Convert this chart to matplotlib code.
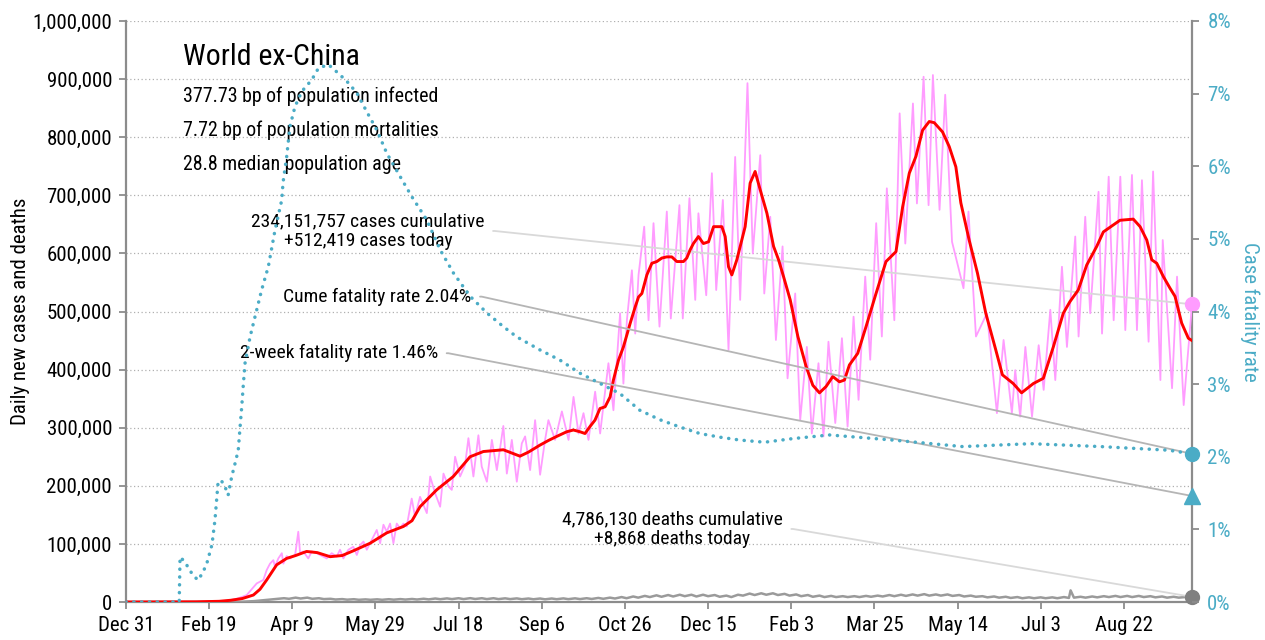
import numpy as np
import matplotlib
matplotlib.use('Agg')
import matplotlib.pyplot as plt
from matplotlib import font_manager as fm
from matplotlib.ticker import FuncFormatter

# x = days since Dec 31 2019, case/death values in thousands
tick_days = [0, 50, 100, 150, 200, 250, 300, 350, 400, 450, 500, 550, 600]
tick_labels = ['Dec 31', 'Feb 19', 'Apr 9', 'May 29', 'Jul 18', 'Sep 6', 'Oct 26',
               'Dec 15', 'Feb 3', 'Mar 25', 'May 14', 'Jul 3', 'Aug 22']

# daily new cases (raw, pink)
pink_days = [0, 50, 60, 66, 70, 72.6, 78.6, 82.6, 84.6, 86.6, 88.6, 89.6, 91.6, 93.7, 94.6,
             96.6, 98.6, 101.7, 103.6, 104.7, 106.6, 109.6, 111.7, 114.7, 116.7, 120.7, 123.7,
             126.7, 128.7, 130.7, 133.7, 136.7, 138.8, 140.8, 142.8, 144.8, 147.8, 150.8, 152.8,
             154.8, 156.8, 158.8, 160.8, 162.8, 164.8, 166.8, 168.8, 171.8, 173.8, 176.8, 180.9,
             182.9, 185.9, 188.9, 190.9, 193.9, 195.9, 197.9, 200.9, 203.9, 205.9, 208.9, 211.9,
             213.9, 217, 220, 223, 226.9, 229, 232, 235, 238, 240, 243, 246, 249, 252,
             254.0, 258.0, 262.1, 266.1, 269.1, 272.1, 275.1, 278.1, 282.1, 285.1, 290.1, 293.1,
             297.1, 299.1, 301.2, 304.2, 306.2, 308.2, 311.6, 314.2, 317.2, 320.8, 325.2, 327.6,
             332.8, 334.8, 338.8, 342.3, 344.2, 348.9, 352.3, 354.9, 358.9, 362.3, 366.3, 369.3,
             373.7, 376.9, 381.4, 383.8, 387.4, 390.8, 394.8, 397.8,
             402.4, 405.4, 409.4, 412.4, 416.4, 419.4, 422.4, 426.5, 430.5, 433.9, 437.5, 440.5,
             444.5, 447.5, 451.1, 454.5, 457.5, 462, 465.2, 468.6, 473.2, 475.6, 479.6, 482.6,
             485.2, 489.2, 492.6, 496.7, 503.6, 506.6, 511.1, 517.7, 523.7,
             527.7, 532.7, 534.7, 537.7, 540.8, 544.8, 548.8, 551.8, 555.8, 558.8, 562.8, 565.8,
             570.8, 572.8, 576.8, 579.8, 584.8, 586.9, 590.9, 593.9, 597.9, 600.9, 604.9, 607.9,
             610.9, 614.9, 617.6, 622, 623.4, 629, 632, 636, 641]
pink_vals = [0, 0.5, 2, 5, 9, 12, 32, 38, 55, 66, 72, 61, 75, 84, 66,
             79, 75, 81, 121, 84, 87, 75, 87, 84, 81, 75, 84,
             78, 90, 75, 90, 95, 81, 98, 104, 90, 107, 124, 101,
             133, 121, 135, 101, 135, 127, 135, 130, 178, 147, 181, 153,
             216, 187, 164, 221, 199, 193, 250, 216, 236, 282, 216, 287,
             233, 207, 279, 227, 303, 221, 279, 207, 273, 285, 227, 313, 219, 279,
             313, 279, 328, 279, 353, 290, 325, 279, 362, 290, 411, 330,
             497, 376, 485, 571, 462, 563, 646, 485, 652, 474, 672, 488,
             683, 488, 695, 520, 669, 528, 738, 537, 692, 434, 766, 520,
             893, 600, 769, 531, 663, 451, 612, 385,
             531, 313, 439, 290, 411, 285, 448, 308, 454, 302, 491, 348,
             560, 417, 652, 457, 712, 485, 841, 617, 858, 686, 904, 683,
             907, 675, 873, 620, 540, 672, 457, 497, 325,
             451, 325, 399, 319, 439, 319, 442, 365, 503, 382, 577, 439,
             629, 457, 663, 497, 706, 462, 732, 485, 732, 468, 735, 468,
             726, 448, 741, 382, 623, 368, 560, 339, 512]

# 7-day average of new cases (red)
avg_days = [0, 28, 42, 56, 63, 70, 76.6, 80.6, 84.6, 90.6, 96.6, 102, 108.6, 115, 122.7, 130,
            136.6, 146.7, 156.8, 166.8, 172, 176.8, 186.8, 196.8, 206.9, 214.9, 226.9, 236.9,
            242, 248.9, 254, 259, 265, 269, 273, 276, 279, 282, 285, 288.1, 291.1, 293.1,
            296.1, 299.1, 303.2, 306.2, 308.2, 310.2, 313.2, 316.2, 319.2, 322.2, 325.2, 328.2,
            331.2, 335.2, 337.2, 339.2, 341.2, 344.2, 347.2, 350.3, 353.3, 358.3, 360.3, 362.3,
            364.3, 367.3, 369.3, 372.3, 375.3, 378.3, 381.4, 385.4, 389.4, 392.4, 395.4, 399.4,
            404, 409, 413, 417, 421, 425, 429, 432, 435, 440, 445, 451, 457, 463, 467, 471,
            475, 479, 483, 486, 491, 495, 499, 502, 507, 512, 517, 523, 527, 533.5, 538.5,
            545.6, 551.6, 557.6, 563.6, 567.6, 572.6, 577.7, 583.7, 587.7, 593.7, 597.7, 605.7,
            609.8, 613.8, 616.8, 619.8, 623.8, 627.8, 630.8, 634.8, 638.8, 641]
avg_vals = [0, 0.1, 0.3, 1.2, 3, 6, 12, 22, 38, 64, 75, 80, 87, 85, 78, 80,
            88, 101, 119, 130, 140, 164, 193, 216, 250, 259, 262, 251,
            258, 270, 278, 285, 293, 296, 293, 290, 302, 313, 333, 336, 353, 382,
            416, 439, 480, 508, 525, 531, 563, 583, 586, 592, 594, 594,
            586, 586, 592, 606, 617, 629, 617, 620, 646, 646, 629, 577,
            563, 589, 612, 646, 721, 741, 709, 669, 612, 589, 560, 520,
            457, 405, 373, 360, 371, 388, 379, 382, 408, 428, 474, 531, 586, 603, 680, 738,
            767, 812, 827, 825, 809, 784, 749, 687, 623, 566, 497, 434, 391, 376, 360,
            376, 385, 439, 497, 517, 537, 580, 612, 637, 649, 657, 659,
            646, 623, 589, 583, 560, 540, 526, 480, 454, 450]

# daily deaths (grey)
death_days = [0, 60, 70, 77, 84, 91, 95, 98, 102, 105, 109, 112, 116, 119, 123, 126, 130, 133,
              137, 140, 144, 147, 151, 154, 158, 161, 165, 168, 172, 175, 179, 182, 186, 189,
              193, 196, 200, 203, 207, 210, 214, 217, 221, 224, 228, 231, 235, 238, 242, 245,
              249, 252, 256, 259, 263, 266, 270, 273, 277, 280, 284, 287, 291, 294, 298, 301,
              305, 308, 312, 315, 319, 322, 326, 329, 333, 336, 340, 343, 347, 350, 354, 357,
              361, 364, 368, 371, 375, 378, 382, 385, 389, 392, 396, 399, 403, 406, 410, 413,
              417, 420, 424, 427, 431, 434, 438, 441, 445, 448, 452, 455, 459, 462, 466, 469,
              473, 476, 480, 483, 487, 490, 494, 497, 501, 504, 508, 511, 515, 518, 522, 525,
              529, 532, 536, 539, 543, 546, 550, 553, 557, 560, 564, 567, 568, 570, 574, 577,
              581, 584, 588, 591, 595, 598, 602, 605, 609, 612, 616, 619, 623, 626, 630, 633,
              637, 641]
death_vals = [0, 0.1, 0.5, 1.5, 3.5, 5.5, 6.5, 5.5, 7.5, 6, 7.5, 5.5, 6.5, 5, 5.5, 4.3, 5, 4,
              4.8, 3.8, 4.5, 3.8, 4.6, 3.8, 4.8, 4, 5, 4.2, 5.2, 4.3, 5.6, 4.5, 6, 4.8,
              6.2, 5, 6.5, 5, 6.6, 5.2, 6.5, 5, 6.5, 5, 6.3, 5, 6.2, 4.8, 6, 4.7,
              6, 4.6, 6, 4.8, 6.2, 4.9, 6.3, 5, 6.5, 5.2, 7, 5.5, 7.5, 6, 8.5, 6.5,
              9.5, 7.5, 10.5, 8.5, 11.5, 9, 12, 9.5, 12.5, 10, 12.5, 9.5, 12.5, 10, 12, 9,
              11, 8.5, 12.5, 11, 14.5, 12, 15, 12.5, 15, 12, 14, 11, 13, 10, 12, 9,
              11, 8.5, 10.5, 8.5, 10, 8.5, 10, 8.5, 10.5, 9, 11, 9.5, 12, 10, 12.5, 10.5,
              13, 11, 13.5, 11, 13, 11, 13, 10.5, 12, 9.5, 11, 9, 10, 8, 9.5, 7.5,
              9, 7, 8.5, 6.5, 8, 6.5, 8, 6.5, 8, 6.5, 8.5, 7, 20, 7.5, 9, 7.5,
              9.5, 8, 10, 8.5, 10.5, 8.5, 10.5, 8.5, 10.5, 8.5, 10, 8, 9.5, 7.5, 9, 7.5,
              8.5, 8.868]

# cumulative case fatality rate, % (teal, right axis)
cfr_days = [0, 32, 32.5, 35.5, 38, 40.3, 43.3, 46.3, 48.7, 51.7, 53.5, 55.3, 57.1, 59.5, 61.4,
            63.6, 65.6, 67.5, 68.6, 69.6, 70.6, 71.6, 74.6, 77.6, 81.6, 85.6, 89.6, 93.7, 94.4,
            96.6, 98.6, 101.6, 105.7, 111.7, 115.7, 121.7, 126.7, 132.8, 138.8, 144.8, 150.8,
            156.8, 164.8, 171.9, 180.9, 188.9, 196.9, 206.9, 217, 227, 235, 249, 261, 273, 285,
            297, 309, 321, 333, 345, 357, 369, 384, 401, 423, 461, 503, 544, 586, 627, 641]
cfr_vals = [0, 0, 0.62, 0.55, 0.45, 0.37, 0.30, 0.41, 0.54, 0.79, 1.13, 1.63, 1.68, 1.59, 1.47,
            1.73, 1.91, 2.09, 2.41, 2.69, 3.01, 3.29, 3.65, 3.93, 4.30, 4.62, 5.12, 5.54, 5.77,
            6.13, 6.55, 6.82, 7.03, 7.19, 7.35, 7.40, 7.30, 7.17, 7.01, 6.75, 6.50,
            6.18, 5.86, 5.58, 5.26, 4.85, 4.53, 4.21, 3.98, 3.79, 3.65, 3.47, 3.33, 3.15, 3.01,
            2.87, 2.64, 2.51, 2.41, 2.32, 2.27, 2.23, 2.20, 2.25, 2.30, 2.23, 2.14, 2.18, 2.14, 2.09, 2.04]

cases_cum = 234151757
cases_today = 512419
deaths_cum = 4786130
deaths_today = 8868
cfr_cume = 2.04
cfr_2wk = 1.46
info_lines = ['377.73 bp of population infected',
              '7.72 bp of population mortalities',
              '28.8 median population age']

# ---- style
avail = {f.name for f in fm.fontManager.ttflist}
fam = 'DejaVu Sans'
for cand in ['Liberation Sans Narrow', 'Roboto Condensed', 'Open Sans Condensed']:
    if cand in avail:
        fam = cand
        break
plt.rcParams['font.family'] = [fam, 'DejaVu Sans']

PINK = '#ff9cff'
RED = '#ff0000'
TEAL = '#4bacc6'
GREY = '#9a9a9a'
AXC = '#8c8c8c'
end = pink_days[-1]

fig = plt.figure(figsize=(12.65, 6.4), dpi=100)
ax = fig.add_axes([126 / 1265, 38 / 640, 1066 / 1265, 581 / 640])
ax2 = ax.twinx()

ax.plot(pink_days, np.array(pink_vals) * 1000, color=PINK, lw=1.3, zorder=3)
ax.plot(avg_days, np.array(avg_vals) * 1000, color=RED, lw=2.1, zorder=5)
ax.plot(death_days, np.array(death_vals) * 1000, color=GREY, lw=1.8, zorder=4)
ax2.plot(cfr_days, cfr_vals, color=TEAL, lw=2.5, linestyle=(0, (0.05, 2.2)),
         dash_capstyle='round', zorder=3)

ax.plot(end, cases_today, 'o', color=PINK, ms=10, clip_on=False, zorder=6)
ax.plot(end, deaths_today, 'o', color='#808080', ms=10, clip_on=False, zorder=6)
ax2.plot(end, cfr_cume, 'o', color=TEAL, ms=10, clip_on=False, zorder=6)
ax2.plot(end, cfr_2wk, '^', color=TEAL, ms=11, clip_on=False, zorder=6)

ax.set_xlim(0, end)
ax.set_ylim(0, 1e6)
ax2.set_ylim(0, 8)
ax.set_xticks(tick_days)
ax.set_xticklabels(tick_labels)
ax.set_yticks(np.arange(0, 1e6 + 1, 1e5))
ax.yaxis.set_major_formatter(FuncFormatter(lambda v, p: f'{v:,.0f}'))
ax2.set_yticks(range(0, 9))
ax2.yaxis.set_major_formatter(FuncFormatter(lambda v, p: f'{v:.0f}%'))

ax.yaxis.grid(True, linestyle=(0, (1, 2)), color='#b0b0b0', lw=0.9)
ax.set_axisbelow(True)

ax.spines['top'].set_visible(False)
for s in ['left', 'right', 'bottom']:
    ax.spines[s].set_color(AXC)
    ax.spines[s].set_linewidth(1.6)
for s in ax2.spines.values():
    s.set_visible(False)

ax.tick_params(axis='both', colors=AXC, labelcolor='black', labelsize=15, length=5, width=1.3)
ax.tick_params(axis='y', pad=5)
ax.tick_params(axis='x', pad=5)
ax2.tick_params(axis='y', colors=AXC, labelcolor=TEAL, labelsize=15, length=5, width=1.3, pad=6)

ax.set_ylabel('Daily new cases and deaths', fontsize=15)
ax.yaxis.set_label_coords(-0.09, 0.5)
ax2.set_ylabel('Case fatality rate', fontsize=15, color=TEAL, rotation=270, va='bottom')
ax2.yaxis.set_label_coords(1.045, 0.5)

# headline text
ax.text(0.0535, 0.9243, 'World ex-China', transform=ax.transAxes, fontsize=21.5, va='baseline')
for i, line in enumerate(info_lines):
    ax.text(0.0535, 0.861 - i * 0.0587, line, transform=ax.transAxes, fontsize=14.3, va='baseline')

# annotations with leader lines to the latest values
def lead(color):
    return dict(arrowstyle='-', color=color, lw=1.3, relpos=(1, 0.5), shrinkA=4, shrinkB=0,
                connectionstyle='arc,angleA=0,armA=10,angleB=0,armB=0,rad=0')

ax.annotate(f'{cases_cum:,} cases cumulative\n+{cases_today:,} cases today',
            xy=(end, cases_today), xytext=(0.227, 0.6386), textcoords='axes fraction',
            ha='center', va='center', fontsize=14, linespacing=1.15,
            arrowprops=lead('#d9d9d9'), annotation_clip=False, zorder=4)
ax2.annotate(f'Cume fatality rate {cfr_cume:.2f}%',
             xy=(end, cfr_cume), xytext=(0.3243, 0.5169), textcoords='axes fraction',
             ha='right', va='baseline', fontsize=14,
             arrowprops=lead('#b5b5b5'), annotation_clip=False, zorder=2)
ax2.annotate(f'2-week fatality rate {cfr_2wk:.2f}%',
             xy=(end, cfr_2wk), xytext=(0.293, 0.4195), textcoords='axes fraction',
             ha='right', va='baseline', fontsize=14,
             arrowprops=lead('#b5b5b5'), annotation_clip=False, zorder=2)
ax.annotate(f'{deaths_cum:,} deaths cumulative\n+{deaths_today:,} deaths today',
            xy=(end, deaths_today), xytext=(0.5127, 0.1257), textcoords='axes fraction',
            ha='center', va='center', fontsize=14, linespacing=1.15,
            arrowprops=lead('#d9d9d9'), annotation_clip=False, zorder=4)

fig.savefig('out.png', dpi=100)
